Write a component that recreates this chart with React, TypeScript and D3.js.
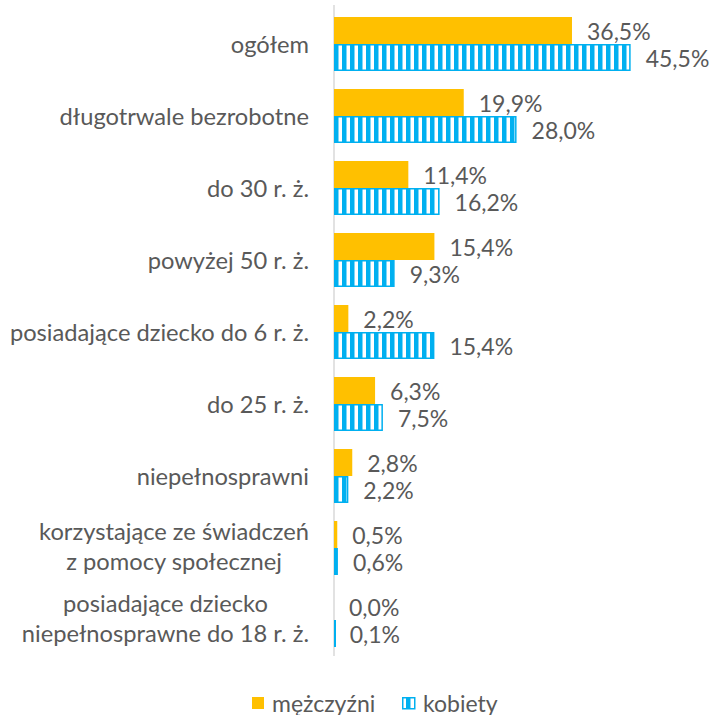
import React from "react";
import * as d3 from "d3";

const categories: string[][] = [
  ["ogółem"],
  ["długotrwale bezrobotne"],
  ["do 30 r. ż."],
  ["powyżej 50 r. ż."],
  ["posiadające dziecko do 6 r. ż."],
  ["do 25 r. ż."],
  ["niepełnosprawni"],
  ["korzystające ze świadczeń", "z pomocy społecznej"],
  ["posiadające dziecko", "niepełnosprawne do 18 r. ż."],
];
const men: number[] = [36.5, 19.9, 11.4, 15.4, 2.2, 6.3, 2.8, 0.5, 0.0];
const women: number[] = [45.5, 28.0, 16.2, 9.3, 15.4, 7.5, 2.2, 0.6, 0.1];
const seriesNames = ["mężczyźni", "kobiety"];

const W = 715;
const H = 715;
const FONT = "Lato, 'Open Sans', sans-serif";
const TEXT = "#595959";
const YELLOW = "#FFC000";
const BLUE = "#00B0F0";

export default function App() {
  const idx = categories.map((_, i) => String(i));
  const y = d3.scaleBand<string>().domain(idx).range([8, 656]).paddingInner(0.25).paddingOuter(0.125);
  const sub = d3.scaleBand<string>().domain(["m", "k"]).range([0, y.bandwidth()]);
  const x = d3.scaleLinear().domain([0, 50]).range([334, 660]);
  const fs = 23;
  const cfs = 23.7;

  return (
    <svg width={W} height={H} style={{ position: "absolute", left: 0, top: 0, background: "#fff" }} fontFamily={FONT}>
      <defs>
        <pattern id="stripes" patternUnits="userSpaceOnUse" width={8} height={8} x={334}>
          <rect x={0} y={0} width={8} height={8} fill={BLUE} />
          <rect x={4.5} y={0} width={3.5} height={8} fill="#fff" />
        </pattern>
      </defs>
      <line x1={x(0)} x2={x(0)} y1={5} y2={656} stroke="#D9D9D9" strokeWidth={1.5} />
      {categories.map((lines, i) => {
        const y0 = y(String(i))!;
        const cy = y0 + y.bandwidth() / 2;
        const lh = 30;
        const wy = y0 + sub("k")!;
        const my = y0 + sub("m")!;
        const bh = sub.bandwidth();
        const wW = Math.max(x(women[i]) - x(0), 0);
        return (
          <g key={i}>
            {lines.length === 1 ? (
              <text x={309} y={cy} textAnchor="end" dominantBaseline="central" fontSize={cfs} fill={TEXT}>
                {lines[0]}
              </text>
            ) : (
              <MultiLine lines={lines} right={309} cy={cy} lh={lh} fs={cfs} />
            )}
            <rect x={x(0)} y={my} width={x(men[i]) - x(0)} height={bh} fill={YELLOW} />
            <rect
              x={x(0) + 0.75}
              y={wy + 0.75}
              width={Math.max(wW - 1.5, 0.5)}
              height={bh - 1.5}
              fill="url(#stripes)"
              stroke={BLUE}
              strokeWidth={1.5}
            />
            <text x={x(men[i]) + 15} y={my + bh / 2} dominantBaseline="central" fontSize={fs} fill={TEXT}>
              {d3.format(".1f")(men[i]).replace(".", ",") + "%"}
            </text>
            <text x={x(women[i]) + 15} y={wy + bh / 2} dominantBaseline="central" fontSize={fs} fill={TEXT}>
              {d3.format(".1f")(women[i]).replace(".", ",") + "%"}
            </text>
          </g>
        );
      })}
      <g>
        <rect x={252} y={697} width={12} height={12} fill={YELLOW} />
        <text x={272} y={712} fontSize={fs} fill={TEXT}>{seriesNames[0]}</text>
        <rect x={402.75} y={697.75} width={12} height={11} fill="url(#stripes)" stroke={BLUE} strokeWidth={1.5} />
        <text x={423} y={712} fontSize={fs} fill={TEXT}>{seriesNames[1]}</text>
      </g>
    </svg>
  );
}

function MultiLine({ lines, right, cy, lh, fs }: { lines: string[]; right: number; cy: number; lh: number; fs: number }) {
  const ref = React.useRef<SVGGElement>(null);
  const [w, setW] = React.useState(0);
  React.useLayoutEffect(() => {
    if (!ref.current) return;
    const texts = Array.from(ref.current.querySelectorAll("text")) as SVGTextElement[];
    setW(Math.max(...texts.map((t) => t.getComputedTextLength())));
  }, []);
  const cx = right - w / 2;
  return (
    <g ref={ref}>
      {lines.map((l, j) => (
        <text
          key={j}
          x={cx}
          y={cy + (j - (lines.length - 1) / 2) * lh - 2}
          textAnchor="middle"
          dominantBaseline="central"
          fontSize={fs}
          fill={TEXT}
        >
          {l}
        </text>
      ))}
    </g>
  );
}
